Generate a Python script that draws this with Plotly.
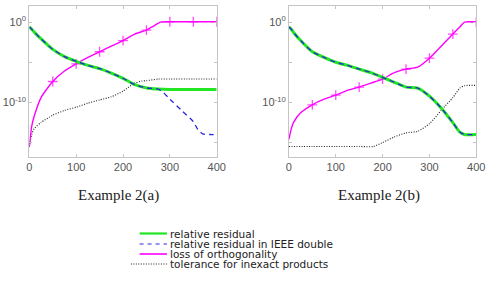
import plotly.graph_objects as go

# ---------------- data ----------------
# Example 2(a)
xa_res = [0, 5, 10, 25, 50, 75, 100, 125, 150, 175, 200, 225, 250, 275, 300, 325, 350, 375, 400]
ya_res = [2.5e-1, 1.3e-1, 6e-2, 8e-3, 4e-4, 5e-5, 1.3e-5, 4e-6, 1.6e-6, 4.5e-7, 1e-7, 1.6e-8, 6.3e-9, 4.5e-9, 4e-9, 4e-9, 4e-9, 4e-9, 4e-9]
xa_ieee = [0, 5, 10, 25, 50, 75, 100, 125, 150, 175, 200, 225, 250, 275, 285, 300, 325, 350, 360, 370, 385, 400]
ya_ieee = [2.5e-1, 1.3e-1, 6e-2, 8e-3, 4e-4, 5e-5, 1.3e-5, 4e-6, 1.6e-6, 4.5e-7, 1e-7, 1.6e-8, 6.3e-9, 4.5e-9, 2e-9, 2.5e-10, 1e-11, 4e-13, 4e-14, 1.2e-14, 1e-14, 1e-14]
xa_orth = [0, 5, 10, 25, 50, 75, 100, 125, 150, 175, 200, 225, 250, 265, 280, 300, 350, 400]
ya_orth = [3e-16, 1e-13, 1.6e-12, 4e-10, 4e-8, 8e-7, 6.3e-6, 4e-5, 2e-4, 1e-3, 5e-3, 3.2e-2, 1e-1, 3.2e-1, 1.0, 1.1, 1.1, 1.1]
xa_tol = [0, 5, 10, 25, 50, 75, 100, 125, 150, 175, 200, 225, 240, 250, 275, 300, 350, 400]
ya_tol = [3e-16, 1e-14, 5e-14, 3.2e-13, 2.5e-12, 1e-11, 2.5e-11, 8e-11, 2e-10, 5e-10, 2.5e-9, 2.5e-8, 4.5e-8, 5e-8, 8e-8, 8e-8, 8e-8, 8e-8]

# Example 2(b)
xb_res = [0, 5, 10, 25, 50, 75, 100, 125, 150, 175, 200, 225, 250, 275, 300, 325, 350, 365, 375, 400]
yb_res = [2.5e-1, 1.3e-1, 5e-2, 5e-3, 2e-4, 4e-5, 1e-5, 4e-6, 1.4e-6, 5e-7, 1.3e-7, 3.2e-8, 8e-9, 6e-9, 6e-10, 2e-11, 3e-13, 2e-14, 1e-14, 1e-14]
xb_orth = [0, 5, 10, 25, 50, 75, 100, 125, 150, 175, 200, 225, 250, 275, 300, 325, 350, 365, 375, 400]
yb_orth = [2.5e-15, 5e-14, 3.2e-13, 5e-12, 5e-11, 2.5e-10, 8e-10, 3.2e-9, 8e-9, 2.5e-8, 8e-8, 5e-7, 1.4e-6, 2.5e-6, 3.2e-5, 1e-3, 3.2e-2, 2.5e-1, 1.0, 1.0]
xb_tol = [0, 50, 100, 150, 180, 200, 225, 250, 275, 300, 325, 350, 365, 375, 400]
yb_tol = [3.2e-16, 3.2e-16, 3.2e-16, 3.2e-16, 3.2e-16, 1e-15, 5e-15, 1.6e-14, 2.5e-14, 2.2e-13, 1e-11, 4e-10, 6e-9, 1.2e-8, 1.3e-8]

x_ticks = [0, 100, 200, 300, 400]
y_ticks = [1e0, 1e-10]
y_ticktext = ["10<sup>0</sup>", "10<sup>-10</sup>"]
y_minor_ticks = [1e-5, 1e-15]
panel_titles = ["Example 2(a)", "Example 2(b)"]
legend_names = ["relative residual", "relative residual in IEEE double",
                "loss of orthogonality", "tolerance for inexact products"]
marker_step = 50

# ---------------- styles ----------------
W, H = 496, 283
GREEN = "#22e622"
BLUE = "#2828d8"
MAG = "#ff00ff"
BLACK = "#222222"
FRAME = "#c4c4c4"
TICKC = "#555555"

fig = go.Figure()

def msizes(xs):
    return [7 if x % marker_step == 0 and x > 0 else 0 for x in xs]

panels = [
    ("x", "y", xa_res, ya_res, xa_ieee, ya_ieee, xa_orth, ya_orth, xa_tol, ya_tol),
    ("x2", "y2", xb_res, yb_res, xb_res, yb_res, xb_orth, yb_orth, xb_tol, yb_tol),
]
for xr, yr, xres, yres, xie, yie, xo, yo, xt, yt in panels:
    fig.add_trace(go.Scatter(x=xt, y=yt, xaxis=xr, yaxis=yr, mode="lines",
                             line=dict(color=BLACK, width=1.1, dash="1px,1.5px", shape="spline", smoothing=0.6),
                             showlegend=False))
    fig.add_trace(go.Scatter(x=xo, y=yo, xaxis=xr, yaxis=yr, mode="lines+markers",
                             line=dict(color=MAG, width=1.4, shape="spline", smoothing=0.6),
                             marker=dict(symbol="cross-thin", size=msizes(xo), color=MAG,
                                         line=dict(color=MAG, width=1.3)),
                             showlegend=False))
    fig.add_trace(go.Scatter(x=xres, y=yres, xaxis=xr, yaxis=yr, mode="lines",
                             line=dict(color=GREEN, width=3, shape="spline", smoothing=0.6),
                             showlegend=False))
    fig.add_trace(go.Scatter(x=xie, y=yie, xaxis=xr, yaxis=yr, mode="lines",
                             line=dict(color=BLUE, width=1.3, dash="5px,4px", shape="spline", smoothing=0.6),
                             showlegend=False))

y_dom = [1 - 157 / H, 1 - 6 / H]
xdoms = [[27 / W, 219 / W], [293 / W, 485 / W]]
axis_common = dict(showgrid=False, zeroline=False, showline=True, linecolor=FRAME, linewidth=1,
                   mirror="ticks", ticks="inside", ticklen=3, tickcolor=FRAME,
                   tickfont=dict(family="Liberation Sans, Arial", size=11, color=TICKC))
yminor = dict(tickvals=y_minor_ticks, ticks="inside", ticklen=3, tickcolor=FRAME, showgrid=False)
fig.update_layout(
    xaxis=dict(domain=xdoms[0], range=[0, 400], tickvals=x_ticks, anchor="y", **axis_common),
    yaxis=dict(domain=y_dom, type="log", range=[-16.8, 2.0], tickvals=y_ticks, ticktext=y_ticktext,
               minor=yminor, anchor="x", **axis_common),
    xaxis2=dict(domain=xdoms[1], range=[0, 400], tickvals=x_ticks, anchor="y2", **axis_common),
    yaxis2=dict(domain=y_dom, type="log", range=[-16.8, 2.0], tickvals=y_ticks, ticktext=y_ticktext,
                minor=yminor, anchor="x2", **axis_common),
    width=W, height=H, autosize=False,
    margin=dict(l=0, r=0, t=0, b=0),
    paper_bgcolor="white", plot_bgcolor="white",
    showlegend=False,
)

# panel captions
for cx, t in zip([118.5, 385], panel_titles):
    fig.add_annotation(x=cx / W, y=1 - 195 / H, xref="paper", yref="paper", text=t,
                       showarrow=False, xanchor="center", yanchor="middle",
                       font=dict(family="Liberation Serif, DejaVu Serif", size=15, color="#222222"))

# legend (drawn manually, MATLAB-style compact)
leg_rows = [233.5, 244, 254, 264]
leg_styles = [dict(color=GREEN, width=2.2), dict(color=BLUE, width=1.2, dash="4px,4px"),
              dict(color=MAG, width=1.6), dict(color=BLACK, width=1.1, dash="1px,1.5px")]
for ry, name, st in zip(leg_rows, legend_names, leg_styles):
    x0 = 131 if st.get("dash") == "1px,1.5px" else 140
    fig.add_shape(type="line", xref="paper", yref="paper", x0=x0 / W, x1=168 / W,
                  y0=1 - ry / H, y1=1 - ry / H, line=st)
    fig.add_annotation(x=169 / W, y=1 - ry / H, xref="paper", yref="paper", text=name,
                       showarrow=False, xanchor="left", yanchor="middle",
                       font=dict(family="DejaVu Sans", size=10.5, color="#222222"))

fig.write_html("out.html")
